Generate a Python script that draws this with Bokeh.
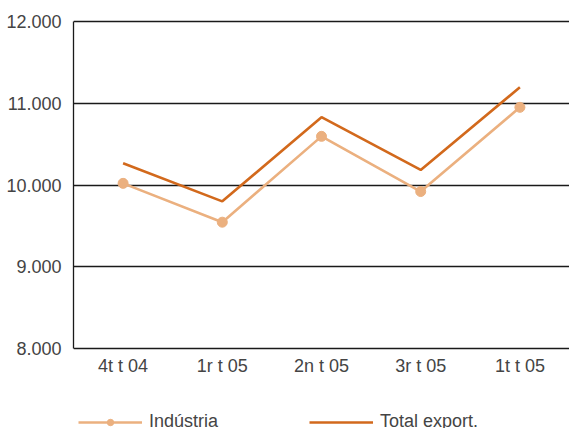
from bokeh.plotting import figure
from bokeh.models import FactorRange, Range1d, FixedTicker, Legend, LegendItem, ColumnDataSource
from bokeh.embed import file_html
from bokeh.resources import INLINE

categories = ["4t t 04", "1r t 05", "2n t 05", "3r t 05", "1t t 05"]
industria = [10020, 9545, 10595, 9920, 10950]
total_export = [10265, 9800, 10830, 10185, 11195]
y_ticks = [8000, 9000, 10000, 11000, 12000]
y_tick_labels = ["8.000", "9.000", "10.000", "11.000", "12.000"]

FONT = "Liberation Sans"
TXT = "#444444"
FS = "18px"

# layout in pixels: value axis 8000..12000 spans 327 px; frame extends 2px above
# and 80px below so the legend can sit inside the frame
PX_PER_UNIT = 327 / 4000
Y_TOP = 12000 + 2 / PX_PER_UNIT
Y_BOTTOM = 8000 - 80 / PX_PER_UNIT

src = ColumnDataSource(dict(cat=categories, ind=industria, tot=total_export))

p = figure(frame_width=496, frame_height=409, output_backend="svg", toolbar_location=None,
           x_range=FactorRange(factors=categories, range_padding=0),
           y_range=Range1d(Y_BOTTOM, Y_TOP),
           min_border_left=73, min_border_right=0, min_border_top=19, min_border_bottom=0)
p.outline_line_color = None
p.background_fill_color = "white"
p.border_fill_color = "white"

ind_line = p.line("cat", "ind", source=src, line_color="#EBB07F", line_width=2.6)
ind_pts = p.scatter("cat", "ind", source=src, size=10, fill_color="#EBB07F", line_color="#EBB07F")
tot_line = p.line("cat", "tot", source=src, line_color="#D2691C", line_width=2.6)

p.yaxis.ticker = FixedTicker(ticks=y_ticks)
p.yaxis.bounds = (y_ticks[0], y_ticks[-1])
p.yaxis.major_label_overrides = {t: l for t, l in zip(y_ticks, y_tick_labels)}
p.yaxis.major_tick_line_color = None
p.yaxis.minor_tick_line_color = None
p.yaxis.axis_line_color = "#1a1a1a"
p.yaxis.axis_line_width = 1.3
p.yaxis.major_label_text_font = FONT
p.yaxis.major_label_text_font_size = FS
p.yaxis.major_label_text_color = TXT
p.yaxis.major_label_standoff = 6

p.xaxis.fixed_location = y_ticks[0]
p.xaxis.major_tick_line_color = None
p.xaxis.minor_tick_line_color = None
p.xaxis.axis_line_color = "#1a1a1a"
p.xaxis.axis_line_width = 1.3
p.xaxis.major_label_text_font = FONT
p.xaxis.major_label_text_font_size = FS
p.xaxis.major_label_text_color = TXT
p.xaxis.major_label_standoff = 1

p.xgrid.grid_line_color = None
p.ygrid.ticker = FixedTicker(ticks=y_ticks[1:])
p.ygrid.grid_line_color = "#1a1a1a"
p.ygrid.grid_line_width = 1.3

legend = Legend(items=[LegendItem(label="Indústria", renderers=[ind_line, ind_pts]),
                       LegendItem(label="Total export.", renderers=[tot_line])],
                orientation="horizontal", location=(5, -4),
                glyph_width=64, glyph_height=16, label_height=16, label_standoff=7,
                spacing=60, label_width=100, padding=0, margin=0,
                border_line_color=None, background_fill_alpha=0,
                label_text_font=FONT, label_text_font_size=FS, label_text_color=TXT)
p.add_layout(legend, "center")

open("out.html", "w").write(file_html(p, INLINE))
